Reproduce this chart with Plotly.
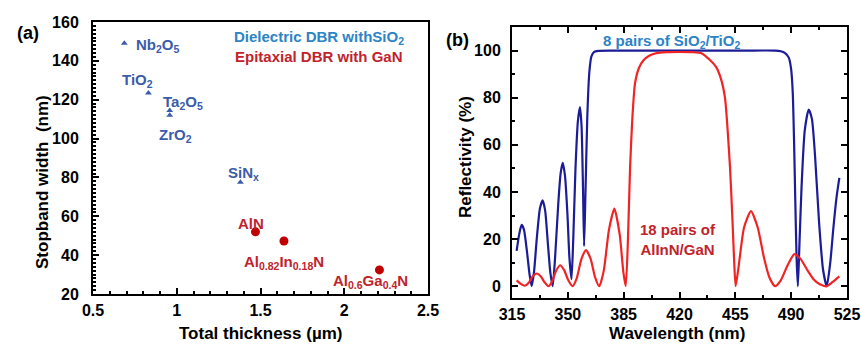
import plotly.graph_objects as go

# ---------- Panel (a) data ----------
diel_names = ["Nb<sub>2</sub>O<sub>5</sub>", "TiO<sub>2</sub>", "Ta<sub>2</sub>O<sub>5</sub>", "ZrO<sub>2</sub>", "SiN<sub>x</sub>"]
diel_thick = [0.687, 0.831, 0.958, 0.958, 1.38]
diel_width = [149.0, 123.5, 114.5, 112.0, 77.5]
diel_lab_x = [0.89, 0.765, 1.04, 0.99, 1.40]
diel_lab_y = [148.0, 130.0, 118.8, 101.8, 81.8]

epi_names = ["AlN", "Al<sub>0.82</sub>In<sub>0.18</sub>N", "Al<sub>0.6</sub>Ga<sub>0.4</sub>N"]
epi_thick = [1.47, 1.64, 2.21]
epi_width = [52.0, 47.3, 32.4]
epi_lab_x = [1.446, 1.638, 2.157]
epi_lab_y = [56.5, 36.0, 26.2]

# ---------- Panel (b) data ----------
blue_wl = [317.9, 319.5, 321.0, 322.5, 324.5, 326.0, 327.3, 328.8, 330.5, 332.5, 334.2, 335.8,
           337.5, 339.0, 340.5, 342.0, 344.0, 345.5, 346.8, 348.2, 349.8, 351.0, 352.3, 353.4,
           354.8, 356.3, 357.6, 358.6, 359.5, 360.2, 361.0, 362.2, 363.5, 364.8, 366.5, 369.0,
           380.0, 420.0, 460.0, 480.0, 483.5, 486.0, 488.5, 490.0, 491.0, 491.8, 492.6, 493.4,
           494.2, 495.2, 496.5, 498.5, 501.0, 503.0, 505.0, 507.5, 510.0, 512.3, 514.5, 516.5,
           518.5, 520.2]
blue_r = [15.0, 22.0, 26.0, 24.0, 14.0, 5.0, 0.0, 6.0, 20.0, 33.0, 36.4, 32.0,
          18.0, 6.0, 0.0, 12.0, 35.0, 48.0, 52.4, 47.0, 30.0, 12.0, 3.0, 20.0,
          50.0, 70.0, 76.0, 68.0, 42.0, 17.0, 38.0, 72.0, 91.0, 97.5, 99.4, 99.9,
          100.0, 100.0, 100.0, 100.0, 99.7, 99.0, 97.0, 92.0, 82.0, 62.0, 36.0, 12.0,
          0.0, 18.0, 42.0, 66.0, 75.0, 71.0, 55.0, 27.0, 7.0, 0.0, 10.0, 25.0,
          38.0, 46.0]

red_wl = [317.9, 320.5, 323.0, 325.5, 328.0, 330.5, 333.0, 335.5, 337.8, 340.0, 342.5, 345.1,
          347.7, 350.3, 353.0, 355.5, 358.5, 361.4, 364.3, 367.0, 369.7, 372.5, 375.8, 379.2,
          382.5, 384.8, 386.3, 387.7, 389.0, 390.5, 392.1, 394.5, 397.3, 401.0, 405.7, 412.0,
          420.0, 428.0, 434.0, 439.1, 443.0, 446.0, 448.5, 450.0, 451.7, 453.2, 454.3, 455.2,
          457.0, 460.5, 464.8, 469.0, 473.0, 476.5, 479.9, 483.5, 487.5, 492.0, 496.0, 500.0,
          504.0, 508.0, 512.3, 516.0, 520.2]
red_r = [2.5, 1.0, 0.2, 1.5, 4.2, 5.4, 4.2, 1.6, 0.0, 1.8, 6.3, 8.9,
         6.8, 2.5, 0.0, 3.2, 11.5, 15.3, 11.6, 4.0, 0.0, 6.5, 24.0, 32.9,
         22.0, 6.0, 0.0, 20.0, 50.0, 72.0, 86.0, 92.5, 95.8, 97.8, 98.9, 99.3,
         99.4, 99.3, 98.8, 96.0, 93.0, 88.0, 80.0, 68.0, 50.0, 28.0, 10.0, 0.0,
         8.0, 25.0, 31.9, 25.0, 12.0, 3.5, 0.0, 2.5, 8.5, 13.6, 11.5, 7.0,
         3.0, 0.8, 0.0, 1.8, 4.2]

a_xticks = [0.5, 1, 1.5, 2, 2.5]
a_xticklabels = ["0.5", "1", "1.5", "2", "2.5"]
a_yticks = [20, 40, 60, 80, 100, 120, 140, 160]
b_xticks = [315, 350, 385, 420, 455, 490, 525]
b_yticks = [0, 20, 40, 60, 80, 100]

FONT = "Liberation Sans, Arial, sans-serif"
DIEL_BLUE = "#3a5caa"
LEG_BLUE = "#2b84c6"
EPI_RED = "#c0232b"
NAVY = "#1c1c98"
BRIGHT_RED = "#f02424"

fig = go.Figure()

fig.add_trace(go.Scatter(x=diel_thick, y=diel_width, mode="markers",
                         marker=dict(symbol="triangle-up", size=6, color=DIEL_BLUE),
                         xaxis="x", yaxis="y", showlegend=False))
fig.add_trace(go.Scatter(x=epi_thick, y=epi_width, mode="markers",
                         marker=dict(symbol="circle", size=9, color="#c00000"),
                         xaxis="x", yaxis="y", showlegend=False))

fig.add_trace(go.Scatter(x=blue_wl, y=blue_r, mode="lines",
                         line=dict(color=NAVY, width=2.2, shape="spline", smoothing=0.6),
                         xaxis="x2", yaxis="y2", showlegend=False))
fig.add_trace(go.Scatter(x=red_wl, y=red_r, mode="lines",
                         line=dict(color=BRIGHT_RED, width=2.2, shape="spline", smoothing=0.6),
                         xaxis="x2", yaxis="y2", showlegend=False))

tickfont = dict(family=FONT, size=16, color="black", weight="bold")

common = dict(showline=True, linecolor="black", linewidth=2, showgrid=False, zeroline=False,
              ticks="inside", tickcolor="black", tickwidth=1.5, ticklen=6, tickfont=tickfont,
              automargin=False)

fig.update_layout(
    width=861, height=345,
    margin=dict(l=0, r=0, t=0, b=0, autoexpand=False),
    paper_bgcolor="white", plot_bgcolor="white",
    font=dict(family=FONT, color="black"),
    xaxis=dict(domain=[93/861, 428/861], range=[0.5, 2.5], tickvals=a_xticks, ticktext=a_xticklabels,
               mirror=True, anchor="y", ticklabelstandoff=1,
               minor=dict(ticks="inside", dtick=0.1, ticklen=3, tickcolor="black", showgrid=False),
               **common),
    yaxis=dict(domain=[1-294/345, 1-22/345], range=[20, 160], tickvals=a_yticks,
               mirror=True, anchor="x", ticklabelstandoff=9,
               minor=dict(ticks="inside", dtick=2, ticklen=3, tickcolor="black", showgrid=False),
               **common),
    xaxis2=dict(domain=[512/861, 847/861], range=[315, 525], tickvals=b_xticks,
                mirror="ticks", anchor="y2", ticklabelstandoff=1,
                minor=dict(ticks="inside", dtick=17.5, tick0=315, ticklen=3, tickcolor="black", showgrid=False),
                **common),
    yaxis2=dict(domain=[1-298/345, 1-27/345], range=[-5, 110], tickvals=b_yticks,
                mirror="ticks", anchor="x2", ticklabelstandoff=6,
                minor=dict(ticks="inside", dtick=10, tick0=0, ticklen=3, tickcolor="black", showgrid=False),
                **common),
)

ann = []
for n, x, y in zip(diel_names, diel_lab_x, diel_lab_y):
    ann.append(dict(x=x, y=y, xref="x", yref="y", text=n, showarrow=False,
                    font=dict(family=FONT, size=15, color=DIEL_BLUE, weight="bold")))
for n, x, y in zip(epi_names, epi_lab_x, epi_lab_y):
    ann.append(dict(x=x, y=y, xref="x", yref="y", text=n, showarrow=False,
                    font=dict(family=FONT, size=15, color=EPI_RED, weight="bold")))

ann += [
    dict(x=1.85, y=151.8, xref="x", yref="y", text="Dielectric DBR withSiO<sub>2</sub>", showarrow=False,
         font=dict(family=FONT, size=15, color=LEG_BLUE, weight="bold")),
    dict(x=1.85, y=142.0, xref="x", yref="y", text="Epitaxial DBR with GaN", showarrow=False,
         font=dict(family=FONT, size=15, color=EPI_RED, weight="bold")),
    dict(x=415, y=104, xref="x2", yref="y2", text="8 pairs of SiO<sub>2</sub>/TiO<sub>2</sub>", showarrow=False,
         font=dict(family=FONT, size=15, color=LEG_BLUE, weight="bold")),
    dict(x=419, y=20, xref="x2", yref="y2", text="18 pairs of<br>AlInN/GaN", showarrow=False,
         font=dict(family=FONT, size=15, color=EPI_RED, weight="bold")),
    dict(x=28/861, y=1-33/345, xref="paper", yref="paper", text="(a)", showarrow=False,
         xanchor="center", yanchor="middle",
         font=dict(family=FONT, size=18, color="black", weight="bold")),
    dict(x=458/861, y=1-40/345, xref="paper", yref="paper", text="(b)", showarrow=False,
         xanchor="center", yanchor="middle",
         font=dict(family=FONT, size=18, color="black", weight="bold")),
    dict(x=42/861, y=1-182/345, xref="paper", yref="paper", text="Stopband width  (nm)", showarrow=False,
         xanchor="center", yanchor="middle",
         textangle=-90, font=dict(family=FONT, size=17, color="black", weight="bold")),
    dict(x=465/861, y=1-157/345, xref="paper", yref="paper", text="Reflectivity (%)", showarrow=False,
         xanchor="center", yanchor="middle",
         textangle=-90, font=dict(family=FONT, size=17, color="black", weight="bold")),
    dict(x=260/861, y=1-333/345, xref="paper", yref="paper", text="Total thickness (µm)", showarrow=False,
         xanchor="center", yanchor="middle",
         font=dict(family=FONT, size=17, color="black", weight="bold")),
    dict(x=677/861, y=1-333/345, xref="paper", yref="paper", text="Wavelength (nm)", showarrow=False,
         xanchor="center", yanchor="middle",
         font=dict(family=FONT, size=17, color="black", weight="bold")),
]
fig.update_layout(annotations=ann)

fig.write_html("out.html")
